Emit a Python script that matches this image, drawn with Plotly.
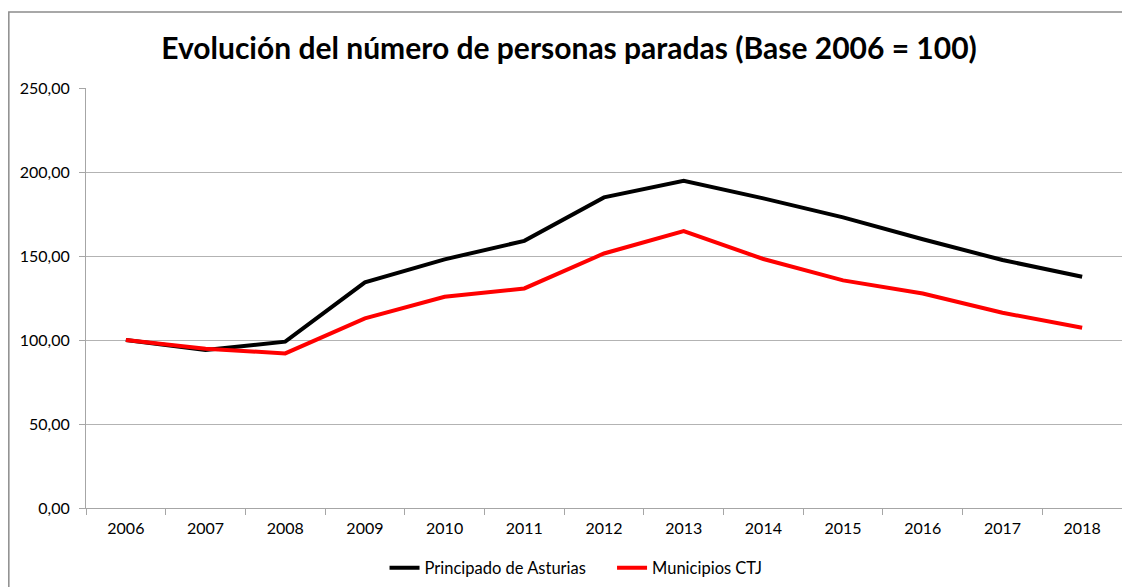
import plotly.graph_objects as go

years = ["2006", "2007", "2008", "2009", "2010", "2011", "2012", "2013", "2014", "2015", "2016", "2017", "2018"]
asturias = [100.0, 94.0, 99.0, 134.3, 148.0, 159.0, 184.9, 194.8, 184.3, 173.0, 160.0, 147.6, 137.6]
ctj = [100.0, 94.8, 92.0, 112.9, 125.7, 130.7, 151.5, 164.8, 148.2, 135.5, 127.7, 116.2, 107.3]
y_ticks = [0, 50, 100, 150, 200, 250]

font_family = "Lato, 'Open Sans', sans-serif"

fig = go.Figure()
fig.add_trace(go.Scatter(x=years, y=asturias, mode="lines", name="Principado de Asturias     ",
                         line=dict(color="#000000", width=4)))
fig.add_trace(go.Scatter(x=years, y=ctj, mode="lines", name="Municipios CTJ",
                         line=dict(color="#ff0000", width=4)))

# page body has an 8px margin: figure is offset to compensate
fig.update_layout(
    width=1122, height=587,
    margin=dict(l=78, r=8, t=80, b=87, autoexpand=False),
    paper_bgcolor="white", plot_bgcolor="white",
    font=dict(family=font_family, size=16, color="#000000"),
    title=dict(text="<b>Evolución del número de personas paradas (Base 2006 = 100)</b>",
               x=0.5, xanchor="center", y=1 - 40 / 587, yanchor="middle",
               font=dict(size=30, family=font_family, color="#000000")),
    separators=",.",
    showlegend=True,
    legend=dict(orientation="h", x=0.473, xanchor="center", y=-0.143, yanchor="middle",
                font=dict(size=16.5), bgcolor="rgba(0,0,0,0)", itemwidth=30),
    xaxis=dict(type="category", showgrid=False, showline=True, linecolor="#a6a6a6", linewidth=1,
               ticks="outside", ticklen=6, tickcolor="#a6a6a6", tickson="boundaries",
               range=[-0.5, len(years) - 0.5], fixedrange=True, zeroline=False,
               tickfont=dict(size=16), ticklabelstandoff=6),
    yaxis=dict(range=[0, 250], tickvals=y_ticks, tickformat=".2f", showgrid=True,
               gridcolor="#b3b3b3", gridwidth=1, showline=True, linecolor="#a6a6a6",
               ticks="outside", ticklen=6, tickcolor="#a6a6a6", zeroline=False, ticklabelstandoff=6,
               tickfont=dict(size=16)),
    shapes=[dict(type="rect", xref="paper", yref="paper", x0=-0.0745, x1=1.05, y0=-0.3, y1=1.181,
                 line=dict(color="#8c8c8c", width=1.5), fillcolor="rgba(0,0,0,0)", layer="below")],
)

fig.write_html("out.html")
